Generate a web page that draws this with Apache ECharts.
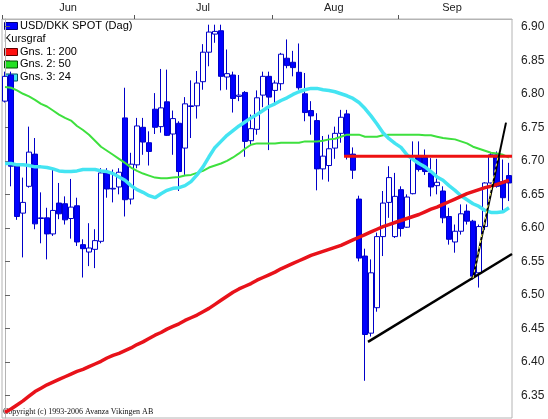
<!DOCTYPE html>
<html>
<head>
<meta charset="utf-8">
<script src="https://cdn.jsdelivr.net/npm/echarts@6/dist/echarts.min.js"></script>
<style>
html,body{margin:0;padding:0;background:#fff;}
#c{width:548px;height:419px;}
</style>
</head>
<body>
<div id="c"></div>
<script>
// ---- data ----
const dates = [
  '2006-06-01','2006-06-02','2006-06-05','2006-06-06','2006-06-07','2006-06-08','2006-06-09','2006-06-12','2006-06-13','2006-06-14','2006-06-15','2006-06-16','2006-06-19','2006-06-20','2006-06-21','2006-06-22','2006-06-23','2006-06-26','2006-06-27','2006-06-28','2006-06-29','2006-06-30',
  '2006-07-03','2006-07-04','2006-07-05','2006-07-06','2006-07-07','2006-07-10','2006-07-11','2006-07-12','2006-07-13','2006-07-14','2006-07-17','2006-07-18','2006-07-19','2006-07-20','2006-07-21','2006-07-24','2006-07-25','2006-07-26','2006-07-27','2006-07-28','2006-07-31',
  '2006-08-01','2006-08-02','2006-08-03','2006-08-04','2006-08-07','2006-08-08','2006-08-09','2006-08-10','2006-08-11','2006-08-14','2006-08-15','2006-08-16','2006-08-17','2006-08-18','2006-08-21','2006-08-22','2006-08-23','2006-08-24','2006-08-25','2006-08-28','2006-08-29','2006-08-30','2006-08-31',
  '2006-09-01','2006-09-04','2006-09-05','2006-09-06','2006-09-07','2006-09-08','2006-09-11','2006-09-12','2006-09-13','2006-09-14','2006-09-15','2006-09-18','2006-09-19','2006-09-20','2006-09-21','2006-09-22','2006-09-25','2006-09-26','2006-09-27'
];
const open = [6.789,6.828,6.692,6.622,6.662,6.710,6.614,6.615,6.591,6.637,6.636,6.614,6.633,6.575,6.564,6.568,6.580,6.682,6.658,6.661,6.764,6.643,
  6.694,6.750,6.727,6.777,6.751,6.788,6.740,6.756,6.719,6.781,6.782,6.818,6.862,6.889,6.894,6.825,6.828,6.796,6.802,6.730,6.747,6.798,6.826,
  6.805,6.815,6.853,6.847,6.832,6.800,6.775,6.760,6.688,6.693,6.719,6.741,6.770,6.710,6.643,6.558,6.443,6.481,6.587,6.638,6.587,
  6.657,6.601,6.651,6.708,6.705,6.682,6.663,6.655,6.617,6.579,6.595,6.625,6.610,6.533,6.602,6.667,6.709,6.669,6.678];
const high = [6.833,6.833,6.694,6.675,6.751,6.734,6.653,6.630,6.688,6.667,6.647,6.673,6.645,6.583,6.607,6.598,6.689,6.689,6.687,6.689,6.809,6.712,
  6.764,6.764,6.744,6.801,6.837,6.836,6.775,6.759,6.795,6.820,6.834,6.874,6.903,6.903,6.903,6.866,6.833,6.828,6.804,6.769,6.805,6.833,6.833,
  6.820,6.861,6.881,6.864,6.875,6.831,6.789,6.771,6.737,6.739,6.751,6.776,6.776,6.720,6.648,6.569,6.553,6.593,6.655,6.692,6.682,
  6.662,6.650,6.729,6.729,6.717,6.704,6.703,6.662,6.630,6.605,6.635,6.635,6.612,6.605,6.668,6.712,6.714,6.702,6.697];
const low = [6.787,6.662,6.612,6.556,6.660,6.598,6.577,6.553,6.588,6.613,6.605,6.584,6.573,6.526,6.543,6.540,6.577,6.645,6.638,6.650,6.617,6.635,
  6.689,6.709,6.693,6.740,6.742,6.737,6.709,6.655,6.679,6.734,6.763,6.806,6.841,6.876,6.805,6.806,6.772,6.789,6.706,6.723,6.739,6.780,6.716,
  6.786,6.805,6.838,6.826,6.806,6.759,6.739,6.656,6.672,6.669,6.703,6.727,6.702,6.673,6.550,6.372,6.438,6.475,6.558,6.615,6.585,
  6.587,6.600,6.650,6.684,6.679,6.647,6.650,6.607,6.575,6.563,6.590,6.605,6.523,6.511,6.597,6.666,6.660,6.623,6.640];
const close = [6.826,6.692,6.617,6.638,6.713,6.606,6.615,6.591,6.626,6.621,6.612,6.631,6.579,6.569,6.570,6.581,6.682,6.658,6.659,6.683,6.642,6.695,
  6.752,6.728,6.714,6.750,6.779,6.738,6.763,6.684,6.785,6.782,6.816,6.862,6.892,6.893,6.826,6.830,6.793,6.798,6.729,6.748,6.794,6.826,6.795,
  6.816,6.859,6.842,6.839,6.809,6.772,6.767,6.688,6.707,6.718,6.741,6.765,6.707,6.686,6.555,6.441,6.533,6.587,6.637,6.675,6.647,
  6.599,6.646,6.708,6.687,6.684,6.661,6.668,6.615,6.583,6.595,6.621,6.610,6.528,6.602,6.667,6.709,6.662,6.645,6.667];
const ma200 = [6.325,6.330,6.336,6.342,6.349,6.356,6.361,6.366,6.370,6.374,6.378,6.382,6.386,6.389,6.393,6.397,6.401,6.406,6.410,6.413,6.417,6.421,
  6.426,6.430,6.435,6.440,6.444,6.449,6.453,6.457,6.462,6.466,6.470,6.475,6.480,6.486,6.492,6.498,6.504,6.509,6.513,6.517,6.522,6.526,6.530,
  6.534,6.539,6.543,6.547,6.551,6.555,6.559,6.562,6.565,6.568,6.571,6.574,6.578,6.582,6.586,6.590,6.594,6.598,6.602,6.605,6.608,
  6.611,6.614,6.617,6.620,6.624,6.628,6.631,6.635,6.639,6.643,6.647,6.651,6.654,6.657,6.660,6.662,6.665,6.668,6.671];
const ma50 = [6.810,6.809,6.805,6.800,6.796,6.791,6.785,6.781,6.775,6.769,6.764,6.760,6.752,6.746,6.739,6.730,6.721,6.715,6.709,6.703,6.697,6.690,
  6.685,6.681,6.678,6.675,6.674,6.674,6.675,6.676,6.678,6.679,6.682,6.685,6.690,6.693,6.696,6.700,6.705,6.711,6.718,6.724,6.726,6.726,6.726,
  6.726,6.727,6.727,6.727,6.727,6.729,6.729,6.729,6.730,6.732,6.733,6.736,6.739,6.739,6.739,6.736,6.736,6.736,6.738,6.739,6.739,
  6.739,6.739,6.739,6.739,6.738,6.738,6.736,6.734,6.733,6.732,6.729,6.726,6.721,6.718,6.715,6.712,6.711,6.709,6.705];
const ma24 = [6.696,6.696,6.694,6.694,6.693,6.691,6.691,6.690,6.688,6.685,6.684,6.684,6.685,6.687,6.687,6.687,6.685,6.684,6.681,6.676,6.671,6.663,
  6.657,6.653,6.648,6.645,6.651,6.656,6.659,6.660,6.663,6.669,6.679,6.691,6.706,6.720,6.729,6.738,6.745,6.752,6.758,6.764,6.769,6.775,6.781,
  6.785,6.790,6.794,6.799,6.803,6.806,6.808,6.808,6.806,6.805,6.803,6.800,6.797,6.793,6.787,6.778,6.767,6.755,6.742,6.733,6.726,
  6.720,6.709,6.702,6.696,6.691,6.684,6.676,6.671,6.663,6.656,6.648,6.642,6.636,6.632,6.626,6.623,6.623,6.624,6.630];
const months = ['Jun','Jul','Aug','Sep'];
const monthTickPos = [-0.5, 21.5, 44.5, 65.5];
const monthLabelPos = [10.5, 33, 54.8, 74.5];
const yTicks = [6.35,6.40,6.45,6.50,6.55,6.60,6.65,6.70,6.75,6.80,6.85,6.90];
// drawn trend lines: [index, value] endpoints
const resistanceLine = [[56.5, 6.707], [84.5, 6.707]];
const supportLine = [[60.5, 6.430], [84.5, 6.561]];
const steepLine = [[78, 6.525], [83.5, 6.757]];
const steepDash = [[78, 6.525], [82.2, 6.708]];

// ---- chart ----
const chart = echarts.init(document.getElementById('c'), null, {renderer: 'canvas'});
const ohlc = dates.map((d, i) => [open[i], close[i], low[i], high[i]]);
const FONT = '"Liberation Sans", Arial, sans-serif';
const legendRows = [
  {y: 26, text: 'USD/DKK SPOT (Dag)', fill: '#0000ff', stroke: '#00007a'},
  {y: 39, text: 'Kursgraf', fill: null},
  {y: 52, text: 'Gns. 1: 200', fill: '#ff1010', stroke: '#600000'},
  {y: 64.5, text: 'Gns. 2: 50', fill: '#22e022', stroke: '#005000'},
  {y: 77.5, text: 'Gns. 3: 24', fill: '#44e6f2', stroke: '#005060'}
];
const graphics = [];
legendRows.forEach(r => {
  if (r.fill) {
    graphics.push({type: 'rect', left: 4, top: r.y - 4, shape: {width: 13, height: 7},
      style: {fill: r.fill, stroke: r.stroke, lineWidth: 1}});
    graphics.push({type: 'text', left: 20, top: r.y - 6,
      style: {text: r.text, fill: '#000', font: '11px ' + FONT}});
  } else {
    graphics.push({type: 'text', left: 4, top: r.y - 6,
      style: {text: r.text, fill: '#000', font: '11px ' + FONT}});
  }
});
graphics.push({type: 'text', left: 3, top: 408,
  style: {text: 'Copyright (c) 1993-2006 Avanza Vikingen AB', fill: '#111', font: '8px "Liberation Serif", "Times New Roman", serif'}});

chart.setOption({
  animation: false,
  backgroundColor: '#ffffff',
  grid: {left: 2, right: 36, top: 19, bottom: 1, show: true, borderColor: '#b4b4b4', borderWidth: 1, backgroundColor: '#ffffff'},
  graphic: graphics,
  xAxis: [
    {type: 'category', data: dates, show: false, boundaryGap: true, position: 'bottom'},
    {type: 'value', min: -0.5, max: 84.5, position: 'top',
      axisLine: {show: true, lineStyle: {color: '#b4b4b4'}},
      axisTick: {show: true, inside: false, length: 4, customValues: monthTickPos, lineStyle: {color: '#555'}},
      axisLabel: {show: true, margin: 6, customValues: monthLabelPos, color: '#222', fontSize: 11, fontFamily: FONT,
        formatter: v => { const k = monthLabelPos.indexOf(v); return k >= 0 ? months[k] : ''; }},
      splitLine: {show: false}}
  ],
  yAxis: {
    type: 'value', position: 'right', min: 6.3165, max: 6.9115, scale: true,
    axisLine: {show: true, lineStyle: {color: '#b4b4b4'}},
    axisTick: {show: true, inside: false, length: 5, customValues: yTicks, lineStyle: {color: '#666'}},
    axisLabel: {margin: 9, customValues: yTicks, color: '#222', fontSize: 12, fontFamily: FONT,
      formatter: v => v.toFixed(2)},
    splitLine: {show: false}
  },
  series: [
    {type: 'candlestick', name: 'USD/DKK SPOT (Dag)', data: ohlc, barWidth: 5, z: 2,
      itemStyle: {color: '#ffffff', color0: '#0000ff', borderColor: '#0000c8', borderColor0: '#0000c8', borderWidth: 1}},
    {type: 'line', name: 'Gns. 2: 50', data: ma50, symbol: 'none', z: 3,
      lineStyle: {color: '#3ee03e', width: 2}},
    {type: 'line', name: 'Gns. 3: 24', data: ma24, symbol: 'none', z: 4,
      lineStyle: {color: '#44e4f2', width: 3.5}},
    {type: 'line', name: 'Gns. 1: 200', data: ma200, symbol: 'none', z: 5,
      lineStyle: {color: '#e8121a', width: 3.5}},
    {type: 'line', xAxisIndex: 1, data: resistanceLine, symbol: 'none', z: 6,
      lineStyle: {color: '#ee1111', width: 3}},
    {type: 'line', xAxisIndex: 1, data: supportLine, symbol: 'none', z: 6,
      lineStyle: {color: '#000000', width: 2.5}},
    {type: 'line', xAxisIndex: 1, data: steepLine, symbol: 'none', z: 6,
      lineStyle: {color: '#000000', width: 2}},
    {type: 'line', xAxisIndex: 1, data: steepDash, symbol: 'none', z: 7,
      lineStyle: {color: '#ffff66', width: 1, type: [3, 3]}}
  ]
});
</script>
</body>
</html>
